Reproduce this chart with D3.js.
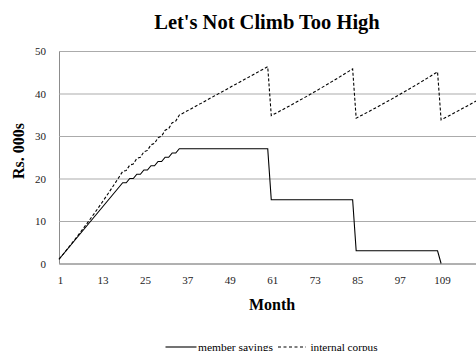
<!DOCTYPE html>
<html><head><meta charset="utf-8">
<script src="https://cdn.jsdelivr.net/npm/d3@7"></script>
<style>body{margin:0;background:#fff;}svg{display:block;}</style>
</head><body>
<svg id="c" width="476" height="351"></svg>
<script>
const titleText = "Let's Not Climb Too High";
const xTitle = "Month";
const yTitle = "Rs. 000s";
const seriesNames = ["member savings", "internal corpus"];
const xTickValues = [1,13,25,37,49,61,73,85,97,109];
const yTickValues = [0,10,20,30,40,50];
const months = d3.range(1, 121);
const memberSavings = [
  1,2,3,4,5,6,7,8,9,10,11,12,13,14,15,16,17,18,
  19,19,20,20,21,21,22,22,23,23,24,24,25,25,26,26,27,27,
  27,27,27,27,27,27,27,27,27,27,27,27,27,27,27,27,27,27,27,27,27,27,27,27,
  15,15,15,15,15,15,15,15,15,15,15,15,15,15,15,15,15,15,15,15,15,15,15,15,
  3,3,3,3,3,3,3,3,3,3,3,3,3,3,3,3,3,3,3,3,3,3,3,3,
  0,null,null,null,null,null,null,null,null,null,null,null
];
const internalCorpus = [
  1.00,2.00,3.03,4.07,5.13,6.20,7.29,8.39,9.51,10.65,11.80,12.97,14.16,15.37,16.60,17.83,19.10,20.37,
  21.65,21.90,23.16,23.43,24.71,25.00,26.30,26.61,27.93,28.26,29.61,29.97,31.34,31.72,33.11,33.51,34.92,35.34,
  35.80,36.25,36.71,37.17,37.62,38.08,38.54,39.00,39.45,39.91,40.37,40.82,41.28,41.74,42.20,42.65,43.11,43.57,44.02,44.48,44.94,45.39,45.85,46.31,
  34.80,35.24,35.67,36.12,36.56,37.01,37.47,37.93,38.39,38.85,39.32,39.80,40.28,40.76,41.25,41.74,42.23,42.73,43.23,43.73,44.24,44.76,45.27,45.79,
  34.20,34.63,35.07,35.50,35.95,36.39,36.84,37.30,37.75,38.22,38.68,39.15,39.62,40.10,40.58,41.07,41.56,42.05,42.55,43.05,43.56,44.07,44.58,45.10,
  33.80,34.23,34.67,35.11,35.55,36.00,36.45,36.90,37.35,37.80,38.26,38.72
];

(function(){
const svg = d3.select("#c");
const font = "'Liberation Serif','Times New Roman',serif";
const pL = 59, pR = 480, pT = 51, pB = 263.5;
const x = d3.scaleLinear().domain([1,120]).range([pL, pR]);
const y = d3.scaleLinear().domain([0,50]).range([pB, pT]);

const gy = svg.append("g").attr("transform", `translate(${pL},0)`)
  .call(d3.axisLeft(y).tickValues(yTickValues).tickSize(-(pR-pL)).tickSizeOuter(0).tickPadding(13).tickFormat(d3.format("d")));
gy.selectAll(".tick line").attr("stroke", "#ababab").attr("stroke-width", 1);
gy.select(".domain").attr("stroke", "#8c8c8c");
gy.selectAll("text").attr("font-family", font).attr("font-size", 11).attr("fill", "#222");

const gx = svg.append("g").attr("transform", `translate(0,${pB})`)
  .call(d3.axisBottom(x).tickValues(xTickValues).tickSize(0).tickPadding(12.5).tickFormat(d3.format("d")));
gx.select(".domain").attr("stroke", "#8c8c8c");
gx.selectAll("text").attr("font-family", font).attr("font-size", 11).attr("fill", "#222").attr("dx", 1);

svg.append("clipPath").attr("id","pc").append("rect")
  .attr("x", pL-2).attr("y", pT-5).attr("width", pR-pL+4).attr("height", pB-pT+10);

const line = d3.line().defined(d => d[1] != null).x(d => x(d[0])).y(d => y(d[1]));
const plot = svg.append("g").attr("clip-path","url(#pc)");
plot.append("path").datum(months.map((m,i)=>[m, memberSavings[i]]))
  .attr("d", line).attr("fill","none").attr("stroke","#000").attr("stroke-width",1.1);
plot.append("path").datum(months.map((m,i)=>[m, internalCorpus[i]]))
  .attr("d", line).attr("fill","none").attr("stroke","#000").attr("stroke-width",1.1).attr("stroke-dasharray","3,2");

svg.append("text").attr("x", 267).attr("y", 29).attr("text-anchor","middle")
  .attr("font-family", font).attr("font-weight","bold").attr("font-size", 20.5).text(titleText);
svg.append("text").attr("x", 272).attr("y", 310).attr("text-anchor","middle")
  .attr("font-family", font).attr("font-weight","bold").attr("font-size", 16).text(xTitle);
svg.append("text").attr("transform","translate(24,151) rotate(-90)").attr("text-anchor","middle")
  .attr("font-family", font).attr("font-weight","bold").attr("font-size", 16).text(yTitle);

const ly = 347;
svg.append("line").attr("x1",165.5).attr("x2",196.5).attr("y1",ly).attr("y2",ly).attr("stroke","#000").attr("stroke-width",1.1);
svg.append("text").attr("x",198).attr("y",ly+3.5).attr("font-family",font).attr("font-size",10)
  .attr("textLength",75).attr("lengthAdjust","spacingAndGlyphs").text(seriesNames[0]);
svg.append("line").attr("x1",278).attr("x2",306).attr("y1",ly).attr("y2",ly).attr("stroke","#000").attr("stroke-width",1.1).attr("stroke-dasharray","3,2.5");
svg.append("text").attr("x",310.5).attr("y",ly+3.5).attr("font-family",font).attr("font-size",10)
  .attr("textLength",67).attr("lengthAdjust","spacingAndGlyphs").text(seriesNames[1]);
})();
</script>
</body></html>
